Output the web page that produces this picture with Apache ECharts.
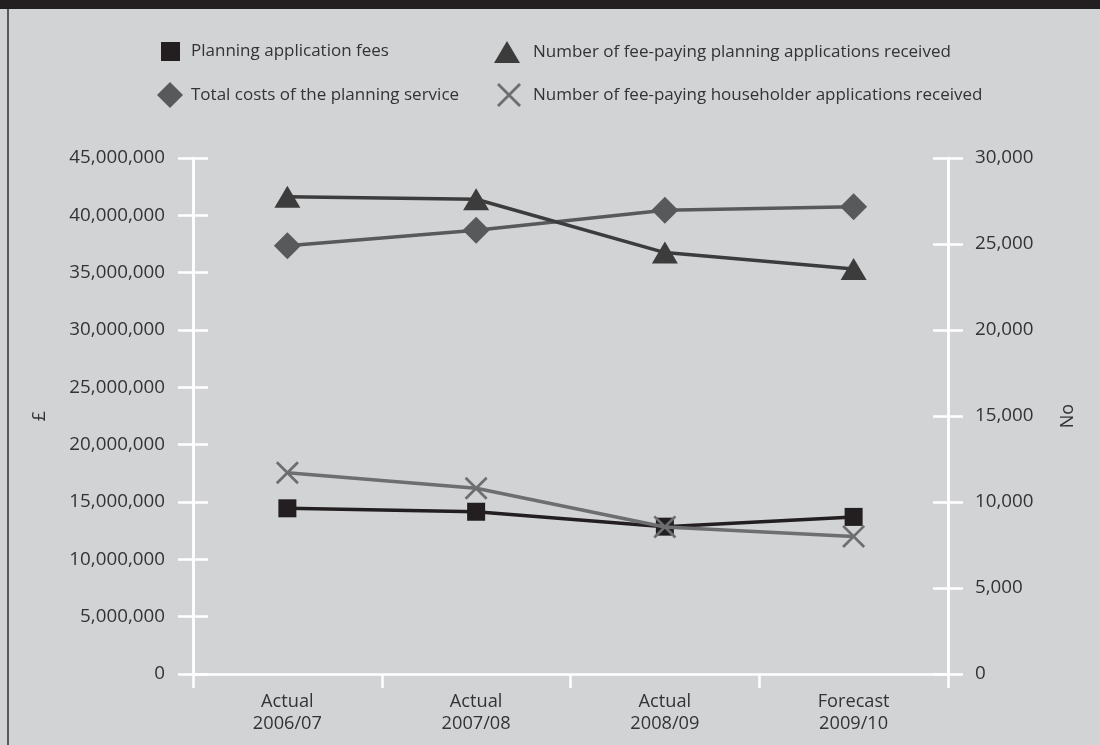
<!DOCTYPE html>
<html>
<head>
<meta charset="utf-8">
<script src="https://cdn.jsdelivr.net/npm/echarts@6/dist/echarts.min.js"></script>
<style>
html,body{margin:0;padding:0;background:#d1d3d4;}
#chart{width:1100px;height:745px;}
</style>
</head>
<body>
<div id="chart"></div>
<script>
const categories = ['Actual\n2006/07', 'Actual\n2007/08', 'Actual\n2008/09', 'Forecast\n2009/10'];
const seriesNames = [
  'Planning application fees',
  'Number of fee-paying planning applications received',
  'Total costs of the planning service',
  'Number of fee-paying householder applications received'
];
const planningFees = [14450000, 14150000, 12850000, 13700000];
const totalCosts = [37350000, 38700000, 40450000, 40750000];
const planningApps = [27750, 27600, 24500, 23550];
const householderApps = [11700, 10800, 8550, 8000];
const leftAxisName = '£';
const rightAxisName = 'No';

const FONT = '"Open Sans", sans-serif';
const TXT = '#333333';
const crossPath = 'path://M0,2 L2,0 L24,22 L22,24 Z M22,0 L24,2 L2,24 L0,22 Z';
const fmt = v => v.toLocaleString('en-US');

const chart = echarts.init(document.getElementById('chart'), null, {renderer: 'canvas'});

function axisPair(position, max, interval, labelShow, inside, name, nameGap, margin) {
  return {
    type: 'value', position: position, min: 0, max: max, interval: interval,
    axisLine: {show: true, lineStyle: {color: '#ffffff', width: 2.5}},
    axisTick: {show: true, inside: inside, length: 15, lineStyle: {color: '#ffffff', width: 2.5}},
    splitLine: {show: false},
    axisLabel: {show: labelShow, formatter: fmt, color: TXT, fontSize: 18.8, fontFamily: FONT, margin: margin},
    name: name, nameLocation: 'middle', nameGap: nameGap, nameRotate: 90,
    nameTextStyle: {color: TXT, fontSize: 18, fontFamily: FONT}
  };
}

const legendBase = {
  orient: 'horizontal', padding: 0, itemGap: 0,
  textStyle: {color: TXT, fontSize: 17, fontFamily: FONT},
  selectedMode: false
};

const option = {
  backgroundColor: '#d1d3d4',
  animation: false,
  graphic: [
    {type: 'rect', left: 0, top: 0, shape: {width: 1100, height: 9}, style: {fill: '#231f20'}, z: 100},
    {type: 'rect', left: 7, top: 9, shape: {width: 2, height: 736}, style: {fill: '#58595b'}, z: 100}
  ],
  grid: {left: 193, right: 152, top: 158, bottom: 71, containLabel: false},
  legend: [
    Object.assign({}, legendBase, {left: 161, top: 42, itemWidth: 19, itemHeight: 19,
      data: [{name: seriesNames[0], icon: 'rect', textStyle: {padding: [0, 0, 0, 6]}}]}),
    Object.assign({}, legendBase, {left: 494, top: 41, itemWidth: 26, itemHeight: 22,
      data: [{name: seriesNames[1], icon: 'triangle', textStyle: {padding: [0, 0, 0, 8]}}]}),
    Object.assign({}, legendBase, {left: 157, top: 82, itemWidth: 26, itemHeight: 26,
      data: [{name: seriesNames[2], icon: 'diamond', textStyle: {padding: [0, 0, 0, 3]}}]}),
    Object.assign({}, legendBase, {left: 497, top: 83, itemWidth: 24, itemHeight: 24,
      data: [{name: seriesNames[3], icon: crossPath, textStyle: {padding: [0, 0, 0, 7]}}]})
  ],
  xAxis: {
    type: 'category', data: categories, boundaryGap: true,
    axisLine: {show: true, lineStyle: {color: '#ffffff', width: 2.5}},
    axisTick: {show: true, length: 14, interval: 0, lineStyle: {color: '#ffffff', width: 2.5}},
    axisLabel: {color: TXT, fontSize: 18.2, fontFamily: FONT, margin: 17, lineHeight: 21.6, interval: 0},
    splitLine: {show: false}
  },
  yAxis: [
    axisPair('left', 45000000, 5000000, true, false, leftAxisName, 144, 28),
    axisPair('left', 45000000, 5000000, false, true, '', 0, 28),
    axisPair('right', 30000, 5000, true, false, rightAxisName, 111, 27),
    axisPair('right', 30000, 5000, false, true, '', 0, 27)
  ],
  series: [
    {name: seriesNames[2], type: 'line', yAxisIndex: 0, data: totalCosts,
      symbol: 'diamond', symbolSize: [27, 27], color: '#58595b',
      lineStyle: {width: 3.5, color: '#58595b'}, itemStyle: {color: '#58595b'}, z: 3},
    {name: seriesNames[1], type: 'line', yAxisIndex: 2, data: planningApps,
      symbol: 'triangle', symbolSize: [26, 22], color: '#3c3c3d',
      lineStyle: {width: 3.5, color: '#3c3c3d'}, itemStyle: {color: '#3c3c3d'}, z: 4},
    {name: seriesNames[0], type: 'line', yAxisIndex: 0, data: planningFees,
      symbol: 'rect', symbolSize: 18, color: '#231f20',
      lineStyle: {width: 3.5, color: '#231f20'}, itemStyle: {color: '#231f20'}, z: 5},
    {name: seriesNames[3], type: 'line', yAxisIndex: 2, data: householderApps,
      symbol: crossPath, symbolSize: [23, 23], color: '#6d6e71',
      lineStyle: {width: 3.5, color: '#6d6e71'}, itemStyle: {color: '#6d6e71'}, z: 6}
  ]
};
chart.setOption(option);
</script>
</body>
</html>
